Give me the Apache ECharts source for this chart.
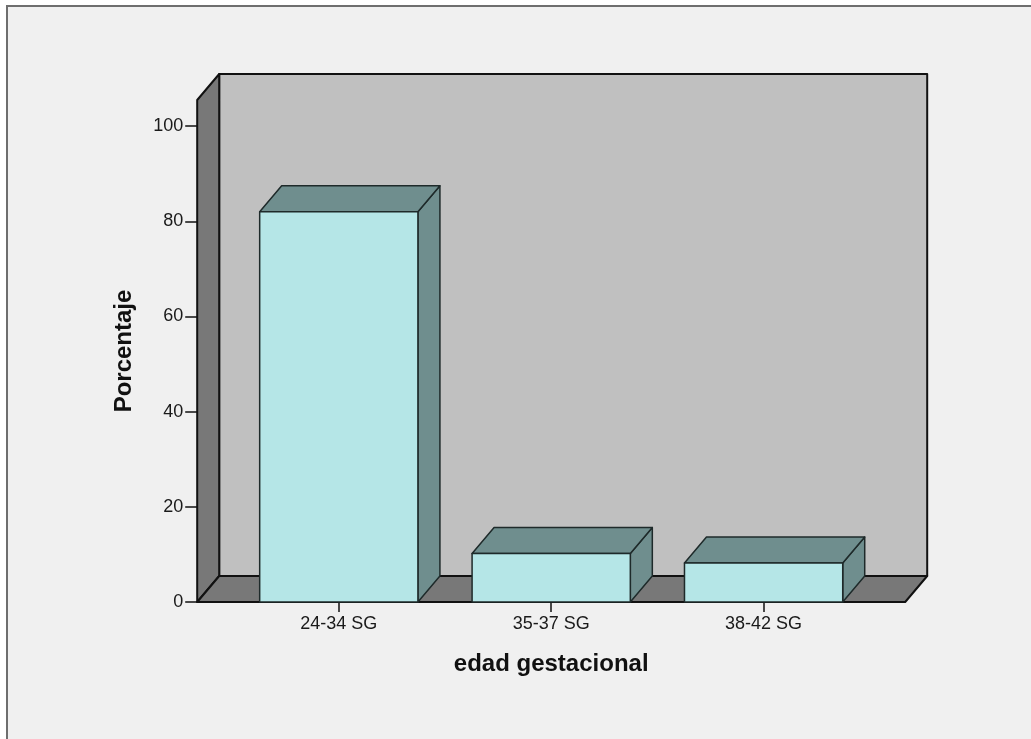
<!DOCTYPE html>
<html>
<head>
<meta charset="utf-8">
<script src="https://cdn.jsdelivr.net/npm/echarts@6/dist/echarts.min.js"></script>
<style>
  html, body { margin: 0; padding: 0; background: #ffffff; }
  #chart { width: 1031px; height: 739px; }
</style>
</head>
<body>
<div id="chart"></div>
<script>
// Gestational age groups and their share of cases (%)
const categories = ['24-34 SG', '35-37 SG', '38-42 SG'];
const percentages = [82.0, 10.2, 8.2];
const yTicks = [0, 20, 40, 60, 80, 100];

const FONT = '"Liberation Sans", Arial, sans-serif';
const DEPTH_X = 22;      // 3D depth offset (px)
const DEPTH_Y = -26;
const PAD = 35.4;        // floor overhang beyond the category bands (px)

const chart = echarts.init(document.getElementById('chart'), null, { renderer: 'canvas' });

// Back wall, left wall and floor of the 3D box
function renderBox(params, api) {
  const cs = params.coordSys;
  const xL = cs.x - PAD;
  const xR = cs.x + cs.width + PAD;
  const y0 = api.coord([0, 0])[1];
  const yT = cs.y;
  const stroke = { stroke: '#111', lineWidth: 2, lineJoin: 'round' };
  return {
    type: 'group',
    children: [
      {
        type: 'polygon',
        shape: { points: [[xL + DEPTH_X, yT + DEPTH_Y], [xR + DEPTH_X, yT + DEPTH_Y], [xR + DEPTH_X, y0 + DEPTH_Y], [xL + DEPTH_X, y0 + DEPTH_Y]] },
        style: Object.assign({ fill: '#c0c0c0' }, stroke)
      },
      {
        type: 'polygon',
        shape: { points: [[xL, yT], [xL + DEPTH_X, yT + DEPTH_Y], [xL + DEPTH_X, y0 + DEPTH_Y], [xL, y0]] },
        style: Object.assign({ fill: '#787878' }, stroke)
      },
      {
        type: 'polygon',
        shape: { points: [[xL, y0], [xL + DEPTH_X, y0 + DEPTH_Y], [xR + DEPTH_X, y0 + DEPTH_Y], [xR, y0]] },
        style: Object.assign({ fill: '#787878' }, stroke)
      }
    ]
  };
}

// A 3D bar: front face, top face and right side face
function renderBar(params, api) {
  const idx = api.value(0);
  const val = api.value(1);
  const top = api.coord([idx, val]);
  const base = api.coord([idx, 0]);
  const w = api.size([1, 0])[0] * 0.745;
  const xl = top[0] - w / 2;
  const xr = top[0] + w / 2;
  const yt = top[1];
  const y0 = base[1];
  const line = { stroke: '#1e2a2a', lineWidth: 1.5, lineJoin: 'round' };
  return {
    type: 'group',
    children: [
      {
        type: 'polygon',
        shape: { points: [[xr, yt], [xr + DEPTH_X, yt + DEPTH_Y], [xr + DEPTH_X, y0 + DEPTH_Y], [xr, y0]] },
        style: Object.assign({ fill: '#6f8e8e' }, line)
      },
      {
        type: 'polygon',
        shape: { points: [[xl, yt], [xr, yt], [xr + DEPTH_X, yt + DEPTH_Y], [xl + DEPTH_X, yt + DEPTH_Y]] },
        style: Object.assign({ fill: '#6f8e8e' }, line)
      },
      {
        type: 'rect',
        shape: { x: xl, y: yt, width: w, height: y0 - yt },
        style: Object.assign({ fill: '#b5e6e7' }, line)
      }
    ]
  };
}

const option = {
  animation: false,
  backgroundColor: '#ffffff',
  graphic: [
    {
      type: 'rect',
      z: -10,
      silent: true,
      shape: { x: 7, y: 6, width: 1100, height: 800 },
      style: { fill: '#f0f0f0', stroke: '#6e6e6e', lineWidth: 2 }
    }
  ],
  grid: {
    left: 232.6,
    top: 100,
    width: 637.2,
    height: 502,
    containLabel: false,
    outerBoundsMode: 'none'
  },
  xAxis: {
    type: 'category',
    data: categories,
    axisLine: { show: false },
    axisTick: { show: true, alignWithLabel: true, length: 10, lineStyle: { color: '#111', width: 1.5 } },
    axisLabel: { color: '#1a1a1a', fontFamily: FONT, fontSize: 18, margin: 13 },
    splitLine: { show: false },
    name: 'edad gestacional',
    nameLocation: 'middle',
    nameGap: 50,
    nameTextStyle: { color: '#111', fontFamily: FONT, fontSize: 24, fontWeight: 'bold' }
  },
  yAxis: {
    type: 'value',
    min: 0,
    max: 105.5,
    interval: 20,
    offset: PAD,
    axisLine: { show: false },
    axisTick: { show: true, length: 12, customValues: yTicks, lineStyle: { color: '#111', width: 1.5 } },
    axisLabel: { color: '#1a1a1a', fontFamily: FONT, fontSize: 18, margin: 14, customValues: yTicks },
    splitLine: { show: false },
    name: 'Porcentaje',
    nameLocation: 'middle',
    nameGap: 61,
    nameRotate: 90,
    nameTextStyle: { color: '#111', fontFamily: FONT, fontSize: 24, fontWeight: 'bold' }
  },
  series: [
    {
      type: 'custom',
      z: 1,
      silent: true,
      renderItem: renderBox,
      data: [[0, 0]]
    },
    {
      type: 'custom',
      z: 2,
      renderItem: renderBar,
      encode: { x: 0, y: 1 },
      data: percentages.map((v, i) => [i, v])
    }
  ]
};

chart.setOption(option);
</script>
</body>
</html>
